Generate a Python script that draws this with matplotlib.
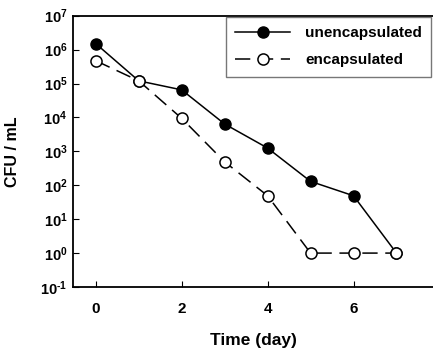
import numpy as np
import matplotlib
matplotlib.use('Agg')
import matplotlib.pyplot as plt
from matplotlib import rcParams

rcParams.update({
    'font.family': ['Liberation Sans', 'DejaVu Sans'],
    'font.weight': 'bold',
    'mathtext.fontset': 'custom',
    'mathtext.rm': 'Liberation Sans:bold',
    'mathtext.bf': 'Liberation Sans:bold',
    'mathtext.default': 'bf',
    'axes.unicode_minus': False,
})

days = [0, 1, 2, 3, 4, 5, 6, 7]
unencapsulated = [1.5e6, 1.2e5, 6.5e4, 6.4e3, 1.25e3, 1.3e2, 49, 1]
encapsulated = [4.7e5, 1.2e5, 9.4e3, 490, 49, 1, 1, 1]
decades = list(range(-1, 8))

fig = plt.figure(figsize=(4.33, 3.53), dpi=100)
ax = fig.add_axes([73/433, 1 - 287/353, 1 - 73/433, (287 - 15.7)/353])

ax.plot(days, unencapsulated, '-', color='black', lw=1.1, marker='o', ms=8,
        mfc='black', mec='black', label='unencapsulated')
ax.plot(days, encapsulated, color='black', lw=1.1, ls=(0, (10, 5)), marker='o', ms=8,
        mfc='white', mec='black', mew=1.1, label='encapsulated')

ax.set_yscale('log')
ax.set_ylim(1e-1, 1e7)
ax.set_xlim(-0.53, 7.85)
ax.set_yticks([10.0**k for k in decades])
ax.set_yticklabels(['$10^{' + str(k).replace('-', '\u2010') + '}$' for k in decades],
                   fontsize=10.5)
ax.minorticks_off()
ax.set_xticks([0, 2, 4, 6])
ax.set_xticklabels(['0', '2', '4', '6'], fontsize=11, fontweight='bold')
ax.tick_params(axis='x', direction='in', length=4, pad=11)
ax.tick_params(axis='y', direction='in', length=4, pad=4)
ax.spines['right'].set_visible(False)
for s in ['left', 'bottom', 'top']:
    ax.spines[s].set_linewidth(1.3)

ax.set_xlabel('Time (day)', fontsize=12.5, fontweight='bold', labelpad=12)
ax.set_ylabel('CFU / mL', fontsize=11.5, fontweight='bold')
ax.yaxis.set_label_coords(-0.147, 0.5)

leg = ax.legend(loc='upper right', frameon=True, fancybox=False,
                edgecolor='#555555', borderaxespad=0.1, handlelength=3.6,
                handletextpad=1.0, labelspacing=0.85, borderpad=0.6,
                prop={'weight': 'bold', 'size': 11})
leg.get_frame().set_linewidth(1.0)

plt.savefig('out.png', dpi=100)
